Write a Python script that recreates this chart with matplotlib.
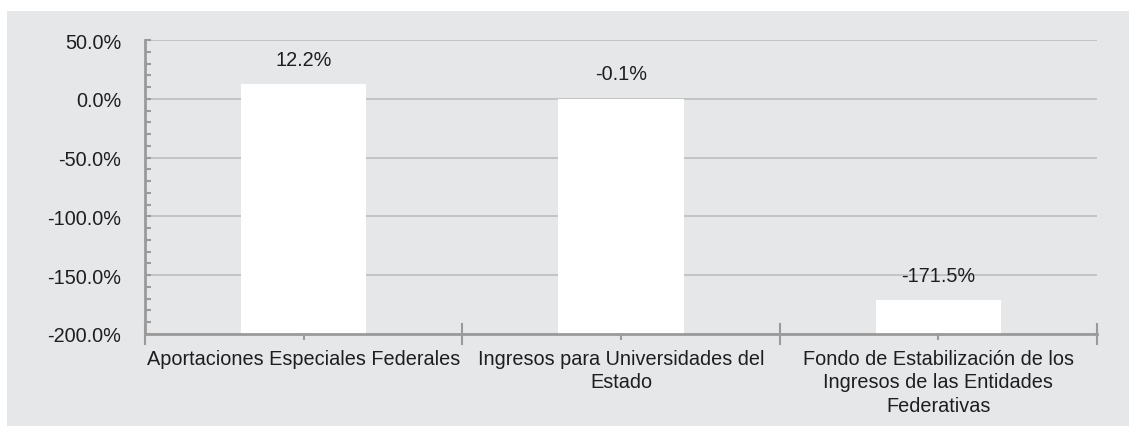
import matplotlib
matplotlib.use('Agg')
import matplotlib.pyplot as plt
from matplotlib.patches import Rectangle
from matplotlib.ticker import FixedLocator, MultipleLocator, FuncFormatter

categories = ['Aportaciones Especiales Federales',
              'Ingresos para Universidades del\nEstado',
              'Fondo de Estabilización de los\nIngresos de las Entidades\nFederativas']
values = [12.2, -0.1, -171.5]
value_labels = ['12.2%', '-0.1%', '-171.5%']

ymin, ymax = -200, 50

plt.rcParams['font.family'] = ['Liberation Sans', 'DejaVu Sans']
fs = 14.3
txt = '#1e1e1e'
axis_gray = '#9a9a9a'

fig = plt.figure(figsize=(11.29, 4.27), dpi=100)
fig.patch.set_facecolor('white')
# gray panel behind the chart
fig.patches.append(Rectangle((7 / 1129, 0), 1 - 7 / 1129, 1 - 12 / 427,
                             transform=fig.transFigure, facecolor='#e6e7e9',
                             edgecolor='none', zorder=-10))

ax = fig.add_axes([145 / 1129, 1 - 335 / 427, 952 / 1129, 294 / 427])
ax.set_facecolor('none')

x = list(range(len(categories)))
heights = [v - ymin for v in values]
ax.bar(x, heights, bottom=ymin, width=0.394, color='white', zorder=2)

for xi, v, lab in zip(x, values, value_labels):
    ax.annotate(lab, (xi, v), xytext=(0, 18), textcoords='offset points',
                ha='center', va='center', fontsize=fs, color=txt, zorder=3)

ax.set_xlim(-0.5, len(categories) - 0.5)
ax.set_ylim(ymin, ymax)

# y axis
ax.yaxis.set_major_locator(MultipleLocator(50))
ax.yaxis.set_minor_locator(MultipleLocator(10))
ax.yaxis.set_major_formatter(FuncFormatter(lambda v, p: f'{v:.1f}%'))
ax.tick_params(axis='y', which='both', direction='in', length=4, width=1.5,
               color=axis_gray, labelsize=fs, labelcolor=txt, pad=17)
ax.grid(axis='y', which='major', color='#bdbdbd', linewidth=1.2, zorder=1)

# x axis
ax.set_xticks(x)
ax.set_xticklabels(categories, fontsize=fs, color=txt, linespacing=1.28)
ax.xaxis.set_minor_locator(FixedLocator([i - 0.5 for i in range(len(categories) + 1)]))
ax.tick_params(axis='x', which='major', direction='out', length=4, width=1.5,
               color=axis_gray, pad=7)
ax.tick_params(axis='x', which='minor', direction='inout', length=16, width=1.5,
               color=axis_gray)

for side in ['top', 'right']:
    ax.spines[side].set_visible(False)
for side in ['left', 'bottom']:
    ax.spines[side].set_color(axis_gray)
    ax.spines[side].set_linewidth(2)
    ax.spines[side].set_zorder(3)

fig.savefig('out.png', dpi=100)
